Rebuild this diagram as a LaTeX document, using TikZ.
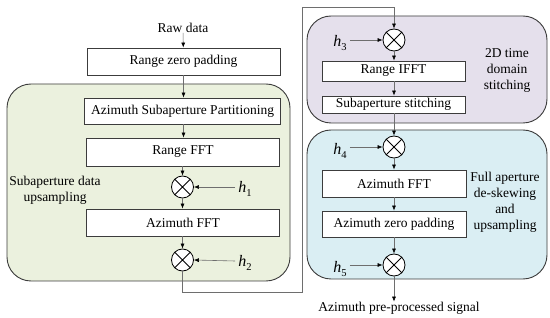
\documentclass[tikz,border=0pt]{standalone}
\usepackage{fontspec}
\setmainfont{Liberation Serif}
\usetikzlibrary{arrows.meta}
\definecolor{greenbg}{RGB}{235,241,222}
\definecolor{purplebg}{RGB}{229,224,236}
\definecolor{bluebg}{RGB}{218,238,243}
\definecolor{edge}{RGB}{60,60,60}
\definecolor{wire}{RGB}{110,110,110}
\tikzset{
  region/.style={draw=edge, line width=0.9pt, rounded corners=24pt},
  procbox/.style={draw=edge, line width=0.8pt, fill=white, inner sep=0pt, font=\fontsize{13.5}{15}\selectfont},
  mult/.style={draw=black, line width=0.8pt, fill=white, circle, minimum size=22pt, inner sep=0pt,
    path picture={\draw[black, line width=0.8pt] (path picture bounding box.north west) -- (path picture bounding box.south east)
      (path picture bounding box.north east) -- (path picture bounding box.south west);}},
  flow/.style={draw=wire, line width=0.6pt, -{Latex[length=5pt,width=4pt,color=black]}},
  lbl/.style={font=\fontsize{13.5}{16}\selectfont, align=center, inner sep=0pt},
  hlbl/.style={font=\fontsize{16}{17}\selectfont, inner sep=0pt}
}
\newcommand{\hsym}[1]{\textit{h}\raisebox{-0.5ex}{\fontsize{10.5}{10.5}\selectfont #1}}
\begin{document}
\begin{tikzpicture}[x=1pt,y=-1pt]
\useasboundingbox (0,0) rectangle (550,318);
% regions
\fill[white] (0,0) rectangle (550,318);
\draw[region, fill=greenbg] (7,84) rectangle (290,281);
\draw[region, fill=purplebg] (307,16) rectangle (547,123);
\draw[region, fill=bluebg] (307,130) rectangle (547,279);
% left column
\node[lbl] (raw) at (183,28) {Raw data};
\node[procbox, minimum width=193pt, minimum height=27pt] (rzp) at (183.5,61.5) {Range zero padding};
\node[procbox, minimum width=196pt, minimum height=26pt] (asp) at (182.5,111) {Azimuth Subaperture Partitioning};
\node[procbox, minimum width=193pt, minimum height=28pt] (rfft) at (183,152) {Range FFT};
\node[mult] (m1) at (182.5,187) {};
\node[procbox, minimum width=193pt, minimum height=27pt] (afft) at (183,222.5) {Azimuth FFT};
\node[mult] (m2) at (182.5,260) {};
\node[hlbl] (h1) at (245,189) {\hsym{1}};
\node[hlbl] (h2) at (245,263) {\hsym{2}};
\node[lbl] (sdu) at (55,190) {Subaperture data\\upsampling};
% right column
\node[mult] (m3) at (394,40) {};
\node[procbox, minimum width=143pt, minimum height=20pt] (rifft) at (393.5,71) {Range IFFT};
\node[procbox, minimum width=143pt, minimum height=17pt] (sst) at (393.5,104.5) {Subaperture stitching};
\node[mult] (m4) at (394,147) {};
\node[procbox, minimum width=144pt, minimum height=27pt] (afft2) at (394,183.5) {Azimuth FFT};
\node[procbox, minimum width=144pt, minimum height=26pt] (azp) at (394,224) {Azimuth zero padding};
\node[mult] (m5) at (394,265) {};
\node[hlbl] (h3) at (340,43) {\hsym{3}};
\node[hlbl] (h4) at (340,151) {\hsym{4}};
\node[hlbl] (h5) at (340,269) {\hsym{5}};
\node[lbl] (tds) at (507,70) {2D time\\domain\\stitching};
\node[lbl] (fad) at (505,202) {Full aperture\\de-skewing\\and\\upsampling};
\node[lbl] (out) at (399,308) {Azimuth pre-processed signal};
\coordinate (c1) at (182.5,292);
\coordinate (c2) at (302,292);
\coordinate (c3) at (302,7);
\coordinate (c4) at (394,7);
% flows
\draw[flow] (raw) -- (rzp);
\draw[flow] (rzp.south) -- (asp.north -| rzp.south);
\draw[flow] (asp.south -| rzp.south) -- (rfft.north -| rzp.south);
\draw[flow] (rfft.south -| m1) -- (m1);
\draw[flow] (m1) -- (afft.north -| m1);
\draw[flow] (afft.south -| m2) -- (m2);
\draw[flow] (h1.west) ++(-3,-2) -- (m1.east);
\draw[flow] (h2.west) ++(-3,-2) -- (m2.east);
\draw[flow] (m2.south) -- (c1) -- (c2) -- (c3) -- (c4) -- (m3.north);
\draw[flow] (m3) -- (rifft.north -| m3);
\draw[flow] (rifft.south -| m3) -- (sst.north -| m3);
\draw[flow] (sst.south -| m4) -- (m4);
\draw[flow] (m4) -- (afft2);
\draw[flow] (afft2) -- (azp);
\draw[flow] (azp) -- (m5);
\draw[flow] (m5.south) -- (m5.south |- out.north);
\draw[flow] (h3.east) ++(3,-3) -- (m3.west);
\draw[flow] (h4.east) ++(3,-4) -- (m4.west);
\draw[flow] (h5.east) ++(3,-4) -- (m5.west);
\end{tikzpicture}
\end{document}
